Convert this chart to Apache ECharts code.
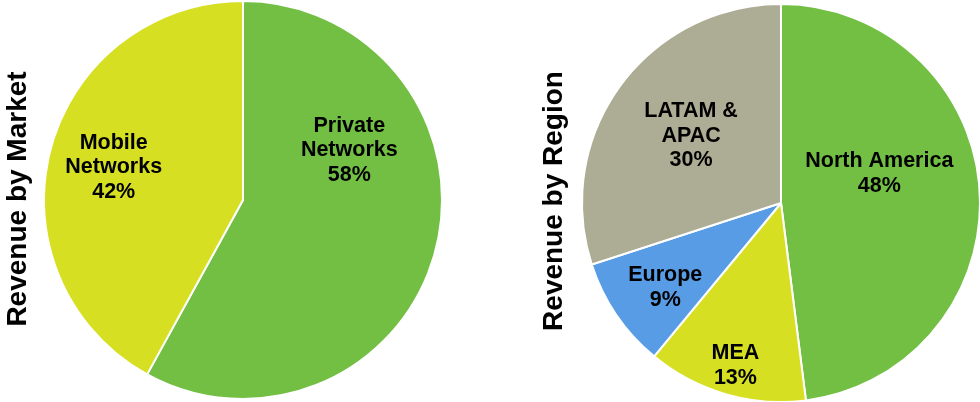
<!DOCTYPE html>
<html>
<head>
<meta charset="utf-8">
<script src="https://cdn.jsdelivr.net/npm/echarts@6/dist/echarts.min.js"></script>
<style>
html,body{margin:0;padding:0;background:#fff;}
#c{width:980px;height:402px;}
</style>
</head>
<body>
<div id="c"></div>
<script>
// Data
const marketNames = ['Private Networks', 'Mobile Networks'];
const marketLabels = ['Private\nNetworks', 'Mobile\nNetworks'];
const marketValues = [58, 42];
const marketColors = ['#72BF44', '#D6DF22'];

const regionNames = ['North America', 'MEA', 'Europe', 'LATAM & APAC'];
const regionLabels = ['North America', 'MEA', 'Europe', 'LATAM &\nAPAC'];
const regionValues = [48, 13, 9, 30];
const regionColors = ['#72BF44', '#D6DF22', '#589CE6', '#ADAC94'];

const titleLeft = 'Revenue by Market';
const titleRight = 'Revenue by Region';

// label nudges (px) to match reference placement
const marketOffsets = [[7, -75], [-30, -7]];
const regionOffsets = [[-4, -23], [-17, 64], [-31, 27], [-7, -7]];

const FONT = '"Liberation Sans", Arial, sans-serif';

const chart = echarts.init(document.getElementById('c'), null, { renderer: 'canvas' });

function seriesFor(names, labels, values, colors, offsets, center) {
  return {
    type: 'pie',
    center: center,
    radius: 199,
    startAngle: 90,
    clockwise: true,
    avoidLabelOverlap: false,
    animation: false,
    itemStyle: { borderColor: '#ffffff', borderWidth: 2 },
    emphasis: { disabled: true },
    labelLine: { show: false },
    label: {
      show: true,
      position: 'inside',
      color: '#000000',
      fontFamily: FONT,
      fontWeight: 'bold',
      fontSize: 21.5,
      lineHeight: 24.5,
      align: 'center',
      formatter: function (p) {
        const idx = p.dataIndex;
        return labels[idx] + '\n' + Math.round(p.percent) + '%';
      }
    },
    data: names.map((n, i) => ({
      name: n,
      value: values[i],
      itemStyle: { color: colors[i] },
      label: { offset: offsets[i] }
    }))
  };
}

chart.setOption({
  backgroundColor: '#ffffff',
  animation: false,
  series: [
    seriesFor(marketNames, marketLabels, marketValues, marketColors, marketOffsets, [243, 200]),
    seriesFor(regionNames, regionLabels, regionValues, regionColors, regionOffsets, [781, 203])
  ],
  graphic: [
    {
      type: 'text',
      x: 18, y: 199,
      rotation: Math.PI / 2,
      style: {
        text: titleLeft,
        fontFamily: FONT, fontWeight: 'bold', fontSize: 28,
        fill: '#000000', align: 'center', verticalAlign: 'middle'
      }
    },
    {
      type: 'text',
      x: 554, y: 201,
      rotation: Math.PI / 2,
      style: {
        text: titleRight,
        fontFamily: FONT, fontWeight: 'bold', fontSize: 28,
        fill: '#000000', align: 'center', verticalAlign: 'middle'
      }
    }
  ]
});
</script>
</body>
</html>
